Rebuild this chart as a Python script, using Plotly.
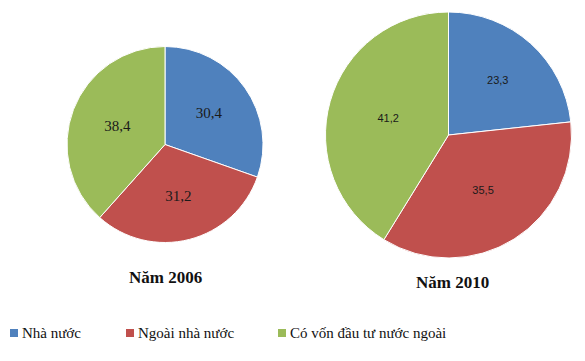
import plotly.graph_objects as go

categories = ["Nhà nước", "Ngoài nhà nước", "Có vốn đầu tư nước ngoài"]
values_2006 = [30.4, 31.2, 38.4]
values_2010 = [23.3, 35.5, 41.2]
titles = ["Năm 2006", "Năm 2010"]
colors = ["#4F81BD", "#C0504D", "#9BBB59"]

W, H = 585, 361

def px_x(x):
    return x / W

def px_y(y):
    return 1 - y / H

fig = go.Figure()

fig.add_trace(go.Pie(
    labels=categories, values=values_2006, sort=False, direction="clockwise",
    rotation=0, marker=dict(colors=colors, line=dict(color="white", width=1)),
    texttemplate="%{value:.1f}", textposition="inside",
    insidetextorientation="horizontal",
    textfont=dict(family="Liberation Serif", size=15, color="#1a1a1a"),
    domain=dict(x=[px_x(67), px_x(263)], y=[px_y(243), px_y(46)]),
    showlegend=False, hoverinfo="label+value",
))

fig.add_trace(go.Pie(
    labels=categories, values=values_2010, sort=False, direction="clockwise",
    rotation=0, marker=dict(colors=colors, line=dict(color="white", width=1)),
    texttemplate="%{value:.1f}", textposition="inside",
    insidetextorientation="horizontal",
    textfont=dict(family="Liberation Sans", size=11, color="#1a1a1a"),
    domain=dict(x=[px_x(325), px_x(572)], y=[px_y(258), px_y(12)]),
    showlegend=False, hoverinfo="label+value",
))

annotations = [
    dict(text="<b>" + titles[0] + "</b>", x=px_x(165), y=px_y(277), xref="paper", yref="paper",
         showarrow=False, font=dict(family="Liberation Serif", size=17, color="#111"),
         xanchor="center", yanchor="middle"),
    dict(text="<b>" + titles[1] + "</b>", x=px_x(452), y=px_y(282), xref="paper", yref="paper",
         showarrow=False, font=dict(family="Liberation Serif", size=17, color="#111"),
         xanchor="center", yanchor="middle"),
]

shapes = []
legend_x = [10, 126, 278]
ly = 333
for i, cat in enumerate(categories):
    sx = legend_x[i]
    shapes.append(dict(type="rect", xref="paper", yref="paper",
                       x0=px_x(sx), x1=px_x(sx + 8), y0=px_y(ly + 4), y1=px_y(ly - 4),
                       fillcolor=colors[i], line=dict(width=0)))
    annotations.append(dict(text=cat, x=px_x(sx + 10), y=px_y(ly), xref="paper", yref="paper",
                            showarrow=False, xanchor="left", yanchor="middle",
                            font=dict(family="Liberation Serif", size=15, color="#111")))

fig.update_layout(
    width=W, height=H, margin=dict(l=0, r=0, t=0, b=0),
    paper_bgcolor="white", plot_bgcolor="white",
    separators=",.",
    annotations=annotations, shapes=shapes,
)

fig.write_html("out.html", config={"displayModeBar": False},
               post_script="document.body.style.margin='0';document.body.style.overflow='hidden';")
